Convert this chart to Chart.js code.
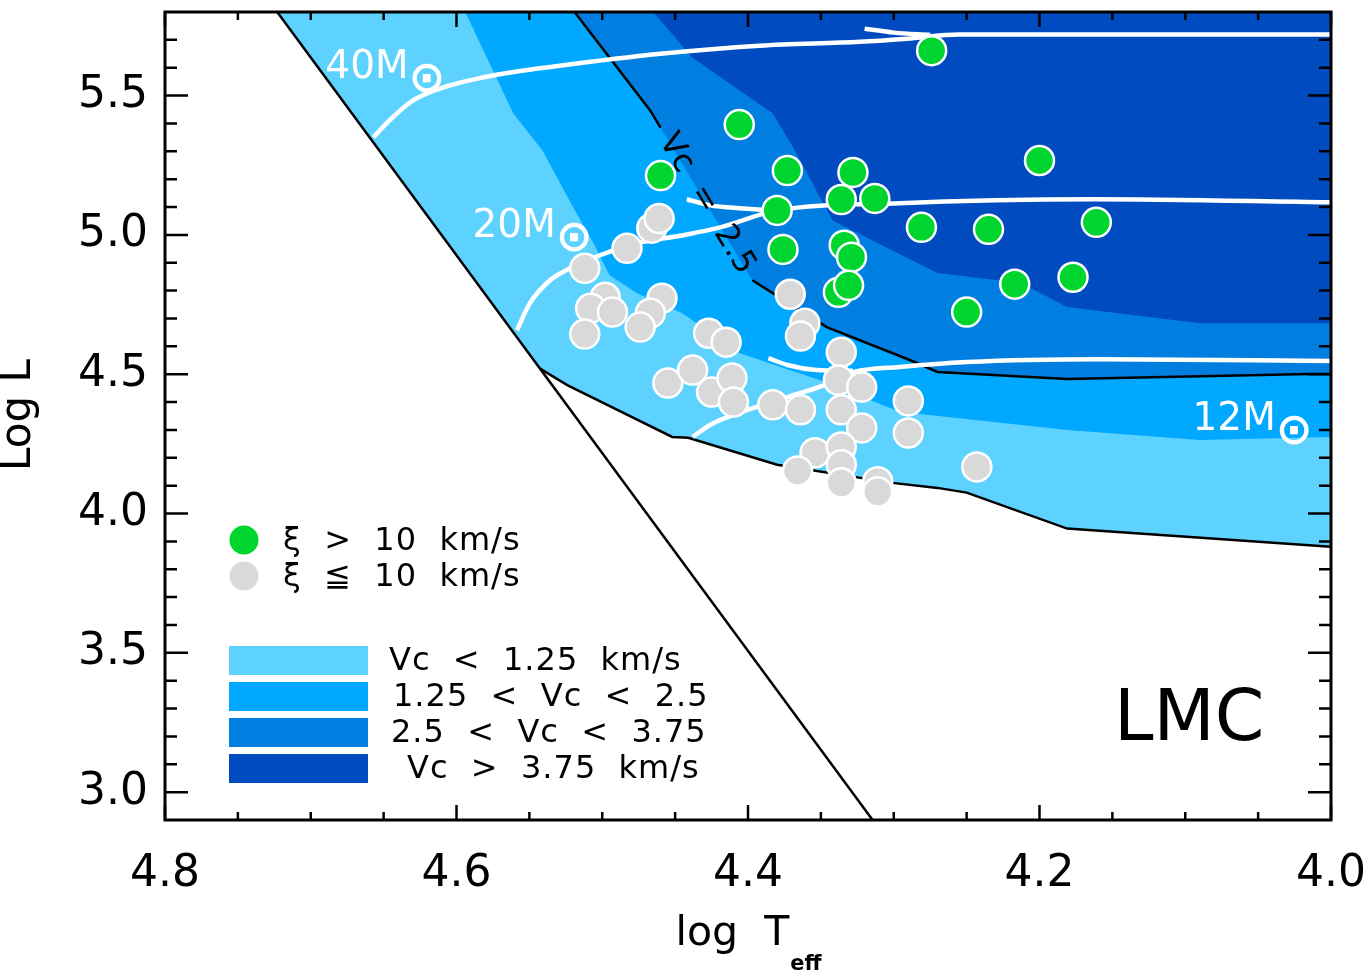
<!DOCTYPE html>
<html>
<head>
<meta charset="utf-8">
<script src="https://cdn.jsdelivr.net/npm/chart.js@4.4.1/dist/chart.umd.min.js"></script>
<style>
  html, body { margin: 0; padding: 0; background: #fff; }
</style>
</head>
<body>
<canvas id="graficaHR" width="1366" height="974"></canvas>
<script>
// ticks
const ticksT = [4.8, 4.6, 4.4, 4.2, 4.0];
const ticksL = [3.0, 3.5, 4.0, 4.5, 5.0, 5.5];

// stars with xi > 10 km/s
const verdeT = [4.274, 4.406, 4.460, 4.373, 4.328, 4.380, 4.336, 4.313, 4.200, 4.376,
                4.334, 4.329, 4.281, 4.235, 4.161, 4.338, 4.331, 4.217, 4.177, 4.250];
const verdeL = [5.661, 5.396, 5.213, 5.231, 5.224, 5.088, 5.127, 5.131, 5.267, 4.948,
                4.963, 4.920, 5.027, 5.020, 5.045, 4.794, 4.819, 4.823, 4.848, 4.723];

// stars with xi <= 10 km/s
const grisT = [4.512, 4.483, 4.466, 4.461, 4.498, 4.508, 4.493, 4.512, 4.459, 4.467,
               4.474, 4.427, 4.415, 4.371, 4.361, 4.364, 4.336, 4.455, 4.438, 4.425,
               4.411, 4.410, 4.383, 4.364, 4.338, 4.322, 4.336, 4.322, 4.290, 4.290,
               4.243, 4.354, 4.366, 4.336, 4.336, 4.336, 4.311, 4.311];
const grisL = [4.880, 4.952, 5.024, 5.059, 4.776, 4.737, 4.723, 4.644, 4.773, 4.719,
               4.669, 4.647, 4.615, 4.787, 4.683, 4.637, 4.579, 4.468, 4.515, 4.436,
               4.486, 4.400, 4.390, 4.372, 4.479, 4.454, 4.372, 4.307, 4.404, 4.289,
               4.167, 4.218, 4.153, 4.239, 4.175, 4.110, 4.114, 4.078];

// outer edges of the coloured area
const diagT = [4.723, 4.3145];
const diagL = [5.80, 2.90];
const bordeT = [4.543, 4.524, 4.452, 4.441, 4.380, 4.301, 4.270, 4.250, 4.181, 4.0];
const bordeL = [4.521, 4.461, 4.275, 4.272, 4.175, 4.110, 4.092, 4.075, 3.946, 3.881];

// Vc contours (1.25, 2.5, 3.75 km/s)
const vc1T = [4.594, 4.575, 4.561, 4.541, 4.520, 4.506, 4.495, 4.476, 4.445, 4.406, 4.351, 4.296, 4.181, 4.090, 4.0];
const vc1L = [5.80, 5.590, 5.436, 5.303, 5.099, 4.970, 4.855, 4.791, 4.719, 4.576, 4.479, 4.365, 4.300, 4.264, 4.275];
const vc2T = [4.519, 4.467, 4.460, 4.397, 4.383, 4.346, 4.289, 4.270, 4.181, 4.014, 4.0];
const vc2L = [5.80, 5.446, 5.385, 4.837, 4.791, 4.669, 4.551, 4.508, 4.483, 4.501, 4.501];
const vc3T = [4.465, 4.438, 4.383, 4.369, 4.342, 4.270, 4.213, 4.181, 4.090, 4.0];
const vc3L = [5.80, 5.636, 5.436, 5.314, 5.052, 4.863, 4.827, 4.741, 4.683, 4.683];

// evolutionary tracks
const t40T = [4.657, 4.646, 4.630, 4.609, 4.575, 4.529, 4.460, 4.392, 4.323, 4.291, 4.255, 4.0];
const t40L = [5.350, 5.411, 5.482, 5.529, 5.572, 5.607, 5.650, 5.679, 5.693, 5.704, 5.719, 5.719];
const g40T = [4.320, 4.300, 4.275];
const g40L = [5.740, 5.726, 5.718];
const t20T = [4.5585, 4.5496, 4.5358, 4.5221, 4.5015, 4.4762, 4.4446, 4.4192, 4.380, 4.3005, 4.1633, 4.0];
const t20L = [4.658, 4.755, 4.837, 4.880, 4.927, 4.970, 4.999, 5.027, 5.088, 5.113, 5.128, 5.117];
const g20T = [4.442, 4.426, 4.403, 4.385];
const g20L = [5.128, 5.106, 5.095, 5.088];
const t12T = [4.438, 4.426, 4.410, 4.394, 4.373, 4.349, 4.327, 4.296, 4.250, 4.159, 4.0];
const t12L = [4.275, 4.318, 4.354, 4.383, 4.418, 4.458, 4.508, 4.526, 4.544, 4.554, 4.547];
const g12T = [4.386, 4.373, 4.353, 4.328];
const g12L = [4.558, 4.533, 4.515, 4.512];

// track labels
const masaTexto = ['40M', '20M', '12M'];
const masaT = [4.690, 4.589, 4.095];
const masaL = [5.564, 4.991, 4.300];

const leyendaVc = ['Vc  <  1.25  km/s', '1.25  <  Vc  <  2.5', '2.5  <  Vc  <  3.75', 'Vc  >  3.75  km/s'];
const leyendaXi = ['\u03be  >  10  km/s', '\u03be  \u2266  10  km/s'];
const coloresVc = ['#5DD2FF', '#00A9FF', '#007FE1', '#004BBF'];
const verde = '#00D42E';
const gris = '#D9D9D9';

function puntos(ts, ls) {
    return ts.map((t, i) => ({ x: t, y: ls[i] }));
}

const relleno = (datos, color, orden) => ({
    data: datos, fill: 'end', backgroundColor: color, borderColor: 'transparent',
    borderWidth: 0, pointRadius: 0, tension: 0, order: orden
});
const linea = (datos, color, ancho, orden, curva) => ({
    data: datos, fill: false, borderColor: color, borderWidth: ancho, pointRadius: 0,
    tension: curva ? 0.4 : 0, cubicInterpolationMode: curva ? 'monotone' : 'default', order: orden
});

// Vc = 2.5 line leaves a gap for its label
const vc2Linea = puntos(vc2T, vc2L);
vc2Linea.splice(3, 0, { x: (vc2T[2] + vc2T[3]) / 2, y: null });

const datasets = [
    relleno([{ x: diagT[0], y: diagL[0] }].concat(puntos(bordeT, bordeL)), coloresVc[0], 20),
    relleno(puntos(vc1T, vc1L), coloresVc[1], 19),
    relleno(puntos(vc2T, vc2L), coloresVc[2], 18),
    relleno(puntos(vc3T, vc3L), coloresVc[3], 17),
    linea(puntos(diagT, diagL), '#000', 2.5, 10, false),
    linea(puntos(bordeT, bordeL), '#000', 2.5, 10, false),
    linea(vc2Linea, '#000', 2.5, 10, false),
    linea(puntos(t40T, t40L), '#fff', 4.5, 6, true),
    linea(puntos(g40T, g40L), '#fff', 4.5, 6, true),
    linea(puntos(t20T, t20L), '#fff', 4.5, 6, true),
    linea(puntos(g20T, g20L), '#fff', 4.5, 6, true),
    linea(puntos(t12T, t12L), '#fff', 4.5, 6, true),
    linea(puntos(g12T, g12L), '#fff', 4.5, 6, true),
    {
        data: puntos(grisT, grisL), showLine: false, pointRadius: 14.5, pointBorderWidth: 2.5,
        pointBackgroundColor: gris, pointBorderColor: '#fff', order: 2
    },
    {
        data: puntos(verdeT, verdeL), showLine: false, pointRadius: 14.5, pointBorderWidth: 2.5,
        pointBackgroundColor: verde, pointBorderColor: '#fff', order: 1
    }
];

const decorado = {
    id: 'decorado',
    afterDatasetsDraw(chart) {
        const { ctx, chartArea: a, scales: { x, y } } = chart;
        ctx.save();

        // inward ticks on all four sides
        ctx.strokeStyle = '#000';
        ctx.lineWidth = 2.5;
        ctx.beginPath();
        for (let i = 0; i <= 16; i++) {
            const px = x.getPixelForValue(4.0 + i * 0.05);
            const len = i % 4 === 0 ? 15 : 8;
            ctx.moveTo(px, a.bottom); ctx.lineTo(px, a.bottom - len);
            ctx.moveTo(px, a.top); ctx.lineTo(px, a.top + len);
        }
        for (let i = 1; i <= 28; i++) {
            const py = y.getPixelForValue(2.9 + i * 0.1);
            const len = (i - 1) % 5 === 0 ? 23 : 12;
            ctx.moveTo(a.left, py); ctx.lineTo(a.left + len, py);
            ctx.moveTo(a.right, py); ctx.lineTo(a.right - len, py);
        }
        ctx.stroke();
        ctx.lineWidth = 3;
        ctx.strokeRect(a.left, a.top, a.right - a.left, a.bottom - a.top);

        // Vc = 2.5 label along the contour
        const p1x = x.getPixelForValue(vc2T[2]), p1y = y.getPixelForValue(vc2L[2]);
        const p2x = x.getPixelForValue(vc2T[3]), p2y = y.getPixelForValue(vc2L[3]);
        ctx.save();
        ctx.translate((p1x + p2x) / 2, (p1y + p2y) / 2);
        ctx.rotate(Math.atan2(p2y - p1y, p2x - p1x));
        ctx.font = '32px "DejaVu Sans"';
        ctx.fillStyle = '#000';
        ctx.textAlign = 'center';
        ctx.textBaseline = 'middle';
        ctx.fillText('Vc  =  2.5', 0, 0);
        ctx.restore();

        // mass labels
        ctx.fillStyle = '#fff';
        ctx.textAlign = 'left';
        ctx.textBaseline = 'alphabetic';
        masaTexto.forEach((txt, i) => {
            const px = x.getPixelForValue(masaT[i]);
            const py = y.getPixelForValue(masaL[i]);
            ctx.font = '39px "DejaVu Sans"';
            ctx.fillText(txt, px, py);
            const w = ctx.measureText(txt).width;
            ctx.font = 'bold 44px "DejaVu Sans"';
            const m = ctx.measureText('\u2299');
            const off = (m.actualBoundingBoxAscent - m.actualBoundingBoxDescent) / 2;
            ctx.fillText('\u2299', px + w + 4 + m.actualBoundingBoxLeft, py + off);
        });

        // LMC
        ctx.fillStyle = '#000';
        ctx.font = '71px "DejaVu Sans"';
        ctx.fillText('LMC', 1114, 740);

        // legend: xi
        ctx.font = '32px "DejaVu Sans"';
        ctx.letterSpacing = '1px';
        ctx.textBaseline = 'middle';
        [verde, gris].forEach((c, i) => {
            const cy = 540 + i * 36;
            ctx.fillStyle = c;
            ctx.beginPath();
            ctx.arc(244, cy, 14.5, 0, Math.PI * 2);
            ctx.fill();
            ctx.fillStyle = '#000';
            ctx.fillText(leyendaXi[i], 283, cy + 2);
        });

        // legend: Vc bands
        const inicio = [389, 393, 391, 407];
        coloresVc.forEach((c, i) => {
            const top = 646 + i * 36;
            ctx.fillStyle = c;
            ctx.fillRect(229, top, 139, 29);
            ctx.fillStyle = '#000';
            ctx.fillText(leyendaVc[i], inicio[i], top + 16);
        });
        ctx.letterSpacing = '0px';

        // axis titles
        ctx.font = '42px "DejaVu Sans"';
        ctx.save();
        ctx.translate(19, 415);
        ctx.rotate(-Math.PI / 2);
        ctx.textAlign = 'center';
        ctx.fillText('Log L', 0, 0);
        ctx.restore();

        ctx.textBaseline = 'alphabetic';
        ctx.font = '41px "DejaVu Sans"';
        const principal = 'log  T';
        const wp = ctx.measureText(principal).width;
        ctx.font = 'bold 21px "DejaVu Sans"';
        const ws = ctx.measureText('eff').width;
        const x0 = (a.left + a.right) / 2 - (wp + ws) / 2;
        ctx.font = '41px "DejaVu Sans"';
        ctx.fillText(principal, x0, 945);
        ctx.font = 'bold 21px "DejaVu Sans"';
        ctx.fillText('eff', x0 + wp + 1, 970);

        ctx.restore();
    }
};

Chart.defaults.font.family = '"DejaVu Sans"';
Chart.defaults.color = '#000';

new Chart(document.getElementById('graficaHR'), {
    type: 'line',
    data: { datasets: datasets },
    options: {
        responsive: false,
        animation: false,
        events: [],
        layout: { autoPadding: false, padding: { top: 12, right: 35, left: 0, bottom: 0 } },
        plugins: { legend: { display: false }, tooltip: { enabled: false } },
        scales: {
            x: {
                type: 'linear', min: 4.0, max: 4.8, reverse: true,
                grid: { display: false, drawTicks: false },
                border: { display: false },
                afterBuildTicks: s => { s.ticks = ticksT.map(v => ({ value: v })); },
                afterFit: s => { s.height = 154; s.paddingLeft = 0; s.paddingRight = 0; },
                ticks: {
                    padding: 28, maxRotation: 0, autoSkip: false,
                    font: { size: 44 }, color: '#000',
                    callback: v => v.toFixed(1)
                }
            },
            y: {
                type: 'linear', min: 2.9, max: 5.8,
                grid: { display: false, drawTicks: false },
                border: { display: false },
                afterBuildTicks: s => { s.ticks = ticksL.map(v => ({ value: v })); },
                afterFit: s => { s.width = 165; s.paddingTop = 0; s.paddingBottom = 0; },
                ticks: {
                    padding: 17, autoSkip: false,
                    font: { size: 44 }, color: '#000',
                    callback: v => v.toFixed(1)
                }
            }
        }
    },
    plugins: [decorado]
});
</script>
</body>
</html>
